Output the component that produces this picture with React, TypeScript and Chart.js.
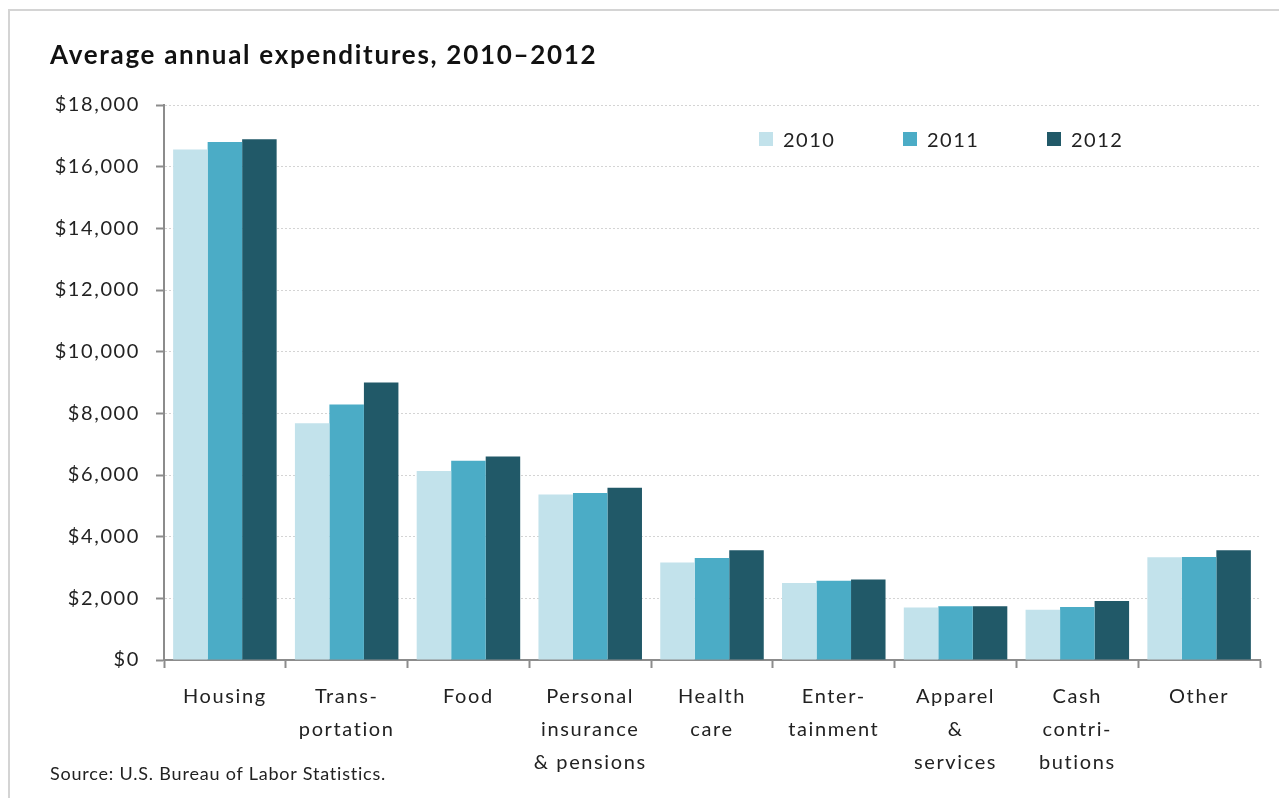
import React, { useEffect, useRef } from "react";
import { Chart, registerables } from "chart.js";

Chart.register(...registerables);

const categories: string[][] = [
  ["Housing"],
  ["Trans-", "portation"],
  ["Food"],
  ["Personal", "insurance", "& pensions"],
  ["Health", "care"],
  ["Enter-", "tainment"],
  ["Apparel", "&", "services"],
  ["Cash", "contri-", "butions"],
  ["Other"],
];

const values2010 = [16560, 7680, 6130, 5370, 3160, 2500, 1700, 1630, 3330];
const values2011 = [16800, 8290, 6460, 5420, 3310, 2570, 1740, 1720, 3340];
const values2012 = [16890, 9000, 6600, 5590, 3560, 2610, 1740, 1910, 3560];

const seriesNames = ["2010", "2011", "2012"];
const seriesColors = ["#C2E2EB", "#4BACC6", "#215968"];

const yMax = 18000;
const yStep = 2000;

const FONT = "Lato, 'Open Sans', sans-serif";

const spacingPlugin = {
  id: "letterSpacing",
  beforeDraw(chart: any) {
    try {
      chart.ctx.letterSpacing = "1.6px";
    } catch (e) {}
  },
};

export default function App() {
  const ref = useRef<HTMLCanvasElement | null>(null);

  useEffect(() => {
    if (!ref.current) return;
    const seriesValues = [values2010, values2011, values2012];
    const chart = new Chart(ref.current, {
      type: "bar",
      data: {
        labels: categories,
        datasets: seriesNames.map((n, i) => ({
          label: n,
          data: seriesValues[i],
          backgroundColor: seriesColors[i],
          borderWidth: 0,
          categoryPercentage: 0.85,
          barPercentage: 1.0,
        })),
      },
      plugins: [spacingPlugin],
      options: {
        animation: false,
        responsive: false,
        maintainAspectRatio: false,
        layout: { padding: { top: 97, right: 27, left: 0, bottom: 0 } },
        plugins: {
          legend: { display: false },
          title: { display: false },
          tooltip: { enabled: false },
        },
        scales: {
          x: {
            afterFit: (s: any) => {
              s.height = 138;
            },
            grid: {
              display: true,
              drawOnChartArea: false,
              drawTicks: true,
              tickLength: 8,
              tickColor: "#8c8c8c",
              tickWidth: 2,
              offset: true,
            },
            border: { display: true, color: "#8c8c8c", width: 2 },
            ticks: {
              color: "#222222",
              font: { family: FONT, size: 20, lineHeight: 1.65 },
              padding: 12,
              maxRotation: 0,
              autoSkip: false,
            },
          },
          y: {
            min: 0,
            max: yMax,
            afterFit: (s: any) => {
              s.width = 156;
            },
            grid: {
              color: "#d4d4d4",
              lineWidth: 1,
              drawTicks: true,
              tickLength: 8,
              tickColor: "#8c8c8c",
              tickWidth: 2,
              tickBorderDash: [],
            },
            border: { display: true, color: "#8c8c8c", width: 2, dash: [2, 2] },
            ticks: {
              stepSize: yStep,
              color: "#222222",
              font: { family: FONT, size: 20 },
              padding: 16,
              callback: (v: any) => "$" + Number(v).toLocaleString("en-US"),
            },
          },
        },
      },
    });
    return () => chart.destroy();
  }, []);

  return (
    <div
      style={{
        position: "relative",
        width: 1279,
        height: 790,
        overflow: "hidden",
        fontFamily: FONT,
      }}
    >
      <div
        style={{
          position: "absolute",
          left: 0,
          top: 1,
          width: 2000,
          height: 2000,
          border: "2px solid #d4d4d4",
        }}
      />
      <canvas
        ref={ref}
        width={1279}
        height={790}
        style={{ position: "absolute", left: 0, top: 0, width: 1279, height: 790 }}
      />
      <div
        style={{
          position: "absolute",
          left: 42,
          top: 31,
          fontSize: 26,
          fontWeight: 700,
          letterSpacing: "1.7px",
          color: "#111",
          lineHeight: "30px",
          whiteSpace: "nowrap",
        }}
      >
        Average annual expenditures, 2010–2012
      </div>
      {seriesNames.map((n, i) => (
        <div
          key={n}
          style={{
            position: "absolute",
            left: [751, 895, 1039][i],
            top: 116,
            display: "flex",
            alignItems: "center",
            height: 30,
            whiteSpace: "nowrap",
          }}
        >
          <span
            style={{
              display: "inline-block",
              width: 14,
              height: 14,
              background: seriesColors[i],
              marginRight: 10,
            }}
          />
          <span style={{ fontSize: 20, letterSpacing: "1.5px", color: "#222" }}>{n}</span>
        </div>
      ))}
      <div
        style={{
          position: "absolute",
          left: 42,
          top: 753,
          fontSize: 18,
          letterSpacing: "0.8px",
          color: "#222",
          lineHeight: "24px",
          whiteSpace: "nowrap",
        }}
      >
        Source: U.S. Bureau of Labor Statistics.
      </div>
    </div>
  );
}
